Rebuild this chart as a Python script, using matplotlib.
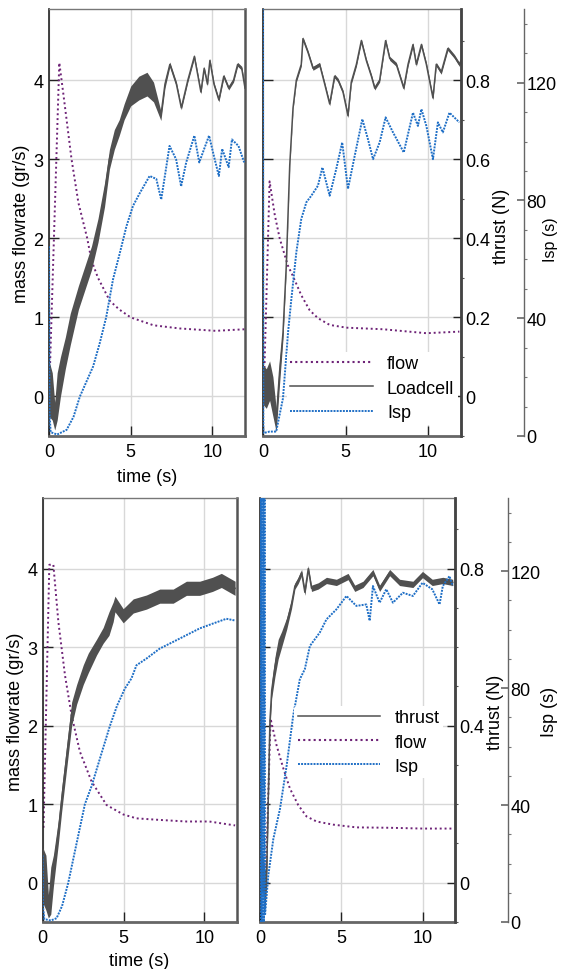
import matplotlib
matplotlib.use("Agg")
import matplotlib.pyplot as plt
import numpy as np
from matplotlib.ticker import MultipleLocator

plt.rcParams['font.family'] = ['Liberation Sans', 'DejaVu Sans']
plt.rcParams['font.size'] = 13

# -----------------------------
# data
# thrust in N, flow in gr/s, Isp in s, time in s
# -----------------------------

# top left
tl_flow_t = [0.05, 0.63, 0.87, 1.38, 1.8, 2.34, 2.6, 3.0, 3.72, 4.3, 5.0, 6.4, 8.0, 10.2, 12.0]
tl_flow = [0.3, 4.22, 3.84, 3.0, 2.45, 2.0, 1.72, 1.5, 1.21, 1.1, 1.0, 0.9, 0.86, 0.83, 0.85]
tl_thrust_t = [0.0, 0.2, 0.35, 0.5, 0.7, 1.0, 1.3, 1.8, 2.2, 2.6, 3.0, 3.4, 3.7, 4.0, 4.3,
               4.6, 5.0, 5.5, 6.0, 6.4, 6.85, 7.1, 7.4, 7.8, 8.1, 8.5, 8.9, 9.3, 9.5, 9.7,
               9.85, 10.1, 10.4, 10.7, 11.0, 11.3, 11.55, 11.8, 12.0]
tl_thrust = [0.02, 0.0, -0.05, 0.0, 0.05, 0.11, 0.17, 0.25, 0.30, 0.35, 0.42, 0.51, 0.60, 0.65, 0.68,
             0.72, 0.76, 0.78, 0.79, 0.77, 0.71, 0.79, 0.84, 0.79, 0.73, 0.80, 0.86, 0.77, 0.83, 0.79,
             0.85, 0.79, 0.75, 0.81, 0.78, 0.80, 0.84, 0.83, 0.78]
tl_thrust_spread = [0.07, 0.06, 0.035, 0.06, 0.05, 0.04, 0.04, 0.03, 0.03, 0.03, 0.03, 0.03, 0.025, 0.025, 0.02,
                    0.02, 0.025, 0.03, 0.03, 0.025, 0.012, 0.01, 0.006, 0.006, 0.005, 0.005, 0.005, 0.005, 0.005,
                    0.005, 0.005, 0.005, 0.005, 0.005, 0.005, 0.005, 0.005, 0.005, 0.005]
tl_isp_t = [0.0, 0.03, 0.1, 0.5, 1.08, 1.5, 1.89, 2.7, 3.1, 3.5, 3.92, 4.33, 4.74, 5.14, 5.55, 6.16,
            6.57, 6.87, 7.38, 7.78, 8.09, 8.4, 8.9, 9.2, 9.5, 9.8, 10.1, 10.4, 10.6, 11.0, 11.2,
            11.6, 11.95]
tl_isp = [64.4, 8.1, 1.3, 0.5, 2.1, 6.5, 13.4, 23.6, 31.4, 40.3, 53.2, 62.0, 71.2, 78.1, 82.4, 88.3,
          87.3, 80.3, 98.5, 94.0, 84.8, 92.9, 102.0, 92.9, 97.5, 102.0, 95.0, 88.3, 97.5, 91.3, 100.7,
          98.5, 92.9]

# top right
tr_flow_t = [0.08, 0.4, 0.71, 1.01, 1.5, 1.82, 2.32, 2.83, 3.33, 4.04, 5.05, 7.27, 9.9, 11.9]
tr_flow = [0.3, 2.72, 2.3, 2.0, 1.66, 1.52, 1.28, 1.09, 0.99, 0.905, 0.87, 0.85, 0.80, 0.82]
tr_thrust_t = [0.0, 0.2, 0.4, 0.6, 0.8, 1.0, 1.21, 1.41, 1.62, 1.82, 2.02, 2.32, 2.42, 2.73, 3.03,
               3.43, 3.74, 4.04, 4.34, 4.55, 4.85, 5.15, 5.35, 5.66, 5.96, 6.26, 6.57, 6.77, 7.07, 7.43,
               7.68, 8.08, 8.53, 8.79, 9.09, 9.29, 9.6, 9.9, 10.3, 10.5, 10.8, 11.2, 11.6, 11.9, 12.0]
tr_thrust = [0.03, 0.02, 0.04, 0.0, -0.06, 0.06, 0.16, 0.33, 0.585, 0.73, 0.80, 0.84, 0.905, 0.87, 0.83,
             0.84, 0.79, 0.74, 0.81, 0.80, 0.77, 0.71, 0.795, 0.84, 0.90, 0.85, 0.81, 0.78, 0.80, 0.90,
             0.855, 0.84, 0.78, 0.84, 0.89, 0.84, 0.89, 0.84, 0.755, 0.84, 0.82, 0.88, 0.86, 0.84, 0.85]
tr_thrust_spread = [0.05, 0.05, 0.05, 0.05, 0.03, 0.03, 0.015, 0.008, 0.005, 0.005] + [0.005] * 35
tr_isp_t = [0.0, 0.02, 0.4, 0.8, 1.21, 1.52, 1.72, 2.02, 2.32, 2.63, 2.93, 3.33, 3.6, 4.04, 4.44,
            4.8, 5.15, 5.56, 6.02, 6.36, 6.67, 7.07, 7.43, 7.88, 8.53, 9.09, 9.39, 9.6, 9.9, 10.3,
            10.6, 10.9, 11.3, 11.7, 11.9]
tr_isp = [150, 1.0, 1.5, 1.5, 12.8, 35.3, 46.6, 62.4, 73.7, 79.4, 81.6, 85.0, 91.2, 81.6, 90.7,
          99.7, 83.9, 95.2, 107.6, 100.8, 94.0, 99.7, 108.2, 103.1, 96.3, 109.8, 105.3, 111.0, 105.3, 94.0,
          106.5, 103.1, 109.8, 107.6, 106.5]

# bottom left
bl_flow_t = [0.05, 0.41, 0.66, 0.97, 1.38, 1.79, 2.3, 3.02, 3.95, 4.98, 5.8, 7.24, 8.89, 10.3, 11.9]
bl_flow = [0.7, 4.05, 4.05, 3.32, 2.64, 2.13, 1.67, 1.29, 0.99, 0.87, 0.82, 0.80, 0.78, 0.78, 0.73]
bl_thrust_t = [0.0, 0.2, 0.35, 0.5, 0.66, 0.97, 1.17, 1.48, 1.79, 2.1, 2.51, 2.82, 3.33, 3.74, 4.1,
               4.36, 4.47, 4.98, 5.6, 6.42, 7.24, 8.07, 8.89, 9.71, 10.5, 11.05, 11.9]
bl_thrust = [0.02, 0.0, -0.06, -0.02, 0.03, 0.13, 0.21, 0.32, 0.43, 0.48, 0.53, 0.56, 0.60, 0.63, 0.66,
             0.69, 0.71, 0.68, 0.705, 0.715, 0.73, 0.73, 0.75, 0.75, 0.76, 0.77, 0.75]
bl_thrust_spread = [0.07, 0.07, 0.03, 0.06, 0.04, 0.03, 0.03, 0.03, 0.03, 0.025, 0.025, 0.025, 0.02, 0.02, 0.03,
                    0.025, 0.02] + [0.018] * 10
bl_isp_t = [0.0, 0.02, 0.1, 0.5, 0.86, 1.2, 1.58, 2.1, 2.61, 3.02, 3.6, 4.16, 4.6, 5.08, 5.49,
            5.8, 6.42, 7.24, 8.07, 8.89, 9.71, 10.5, 11.36, 11.9]
bl_isp = [22.8, 5.0, 1.0, 0.5, 1.3, 5.5, 13.4, 27.0, 40.3, 46.4, 57.0, 67.1, 74.0, 79.8, 83.3,
          87.8, 90.1, 93.5, 95.8, 98.1, 100.4, 102.0, 103.7, 103.1]

# bottom right
br_flow_t = [0.3, 0.65, 1.02, 1.43, 1.84, 2.35, 2.86, 3.48, 4.5, 5.93, 7.98, 10.0, 11.86]
br_flow = [-0.3, 2.09, 1.75, 1.46, 1.20, 0.99, 0.845, 0.78, 0.74, 0.705, 0.70, 0.69, 0.69]
br_thrust_t = [0.0, 0.15, 0.3, 0.41, 0.61, 0.72, 0.92, 1.12, 1.33, 1.64, 1.94, 2.15, 2.35, 2.56, 2.76,
               2.97, 3.17, 3.58, 4.09, 4.7, 5.42, 5.83, 6.34, 6.95, 7.36, 7.98, 8.59, 9.41, 10.0, 10.6,
               11.25, 11.86]
br_thrust = [0.01, 0.03, -0.02, 0.03, 0.41, 0.49, 0.55, 0.595, 0.62, 0.66, 0.71, 0.756, 0.77, 0.79, 0.74,
             0.80, 0.75, 0.756, 0.77, 0.765, 0.78, 0.75, 0.76, 0.79, 0.75, 0.79, 0.765, 0.76, 0.785, 0.765,
             0.77, 0.765]
br_thrust_spread = [0.05, 0.05, 0.05, 0.04, 0.02, 0.02, 0.025, 0.025, 0.02, 0.015, 0.012] + [0.008] * 21
br_isp_t = [0.04, 0.06, 0.12, 0.18, 0.24, 0.28, 0.31, 0.51, 0.82, 1.23, 1.64, 2.04, 2.45, 2.76, 3.07,
            3.68, 4.09, 4.7, 5.32, 5.93, 6.54, 6.75, 6.95, 7.36, 7.77, 8.18, 8.79, 9.41, 10.0, 10.6,
            11.05, 11.25, 11.66, 11.86]
br_isp = [0, 150, 0, 150, 0, 150, 2.3, 15.9, 28.4, 38.7, 53.5, 70.5, 83.0, 86.5, 94.4,
          99.0, 103.5, 106.9, 111.5, 108.1, 108.6, 103.0, 114.9, 109.2, 113.8, 109.2, 112.6, 111.5, 116.0, 113.8,
          108.6, 114.9, 118.3, 114.9]

# ---- style ----
GRAY = '#505050'
PURPLE = '#6e2377'
BLUE = '#1f6fc6'
FLOW_LIM = (-0.5, 4.9)
THRUST_LIM = (-0.1, 0.98)
ISP_LIM = (0, 145)
W, H = 561, 970
FS = 13

fig = plt.figure(figsize=(W / 100, H / 100), dpi=100)


def px_rect(x0, y0, x1, y1):
    return [x0 / W, 1 - y1 / H, (x1 - x0) / W, (y1 - y0) / H]


def style_spines(ax):
    ax.spines['left'].set_color('#222222')
    ax.spines['left'].set_linewidth(1.2)
    ax.spines['top'].set_color('#777777')
    ax.spines['top'].set_linewidth(1.0)
    ax.spines['right'].set_color('#555555')
    ax.spines['right'].set_linewidth(1.8)
    ax.spines['bottom'].set_color('#666666')
    ax.spines['bottom'].set_linewidth(2.0)


def make_panel(rect, left_panel, isp_pos=None, thrust_ticks=None):
    ax = fig.add_axes(rect)
    ax.set_xlim(0, 12)
    ax.set_ylim(*FLOW_LIM)
    ax.set_xticks([0, 5, 10])
    ax.set_yticks([0, 1, 2, 3, 4])
    ax.grid(True, color='#d8d8d8', lw=1.0)
    ax.set_axisbelow(True)
    ax.tick_params(direction='in', length=7, width=1, color='#222222', pad=4,
                   right=left_panel, labelleft=left_panel, labelsize=FS)
    ax.tick_params(axis='x', pad=5)
    style_spines(ax)

    axt = ax.twinx()
    axt.set_ylim(*THRUST_LIM)
    axi = ax.twinx()
    axi.set_ylim(*ISP_LIM)
    if left_panel:
        axt.axis('off')
        axi.axis('off')
    else:
        for s in ['left', 'top', 'bottom']:
            axt.spines[s].set_visible(False)
            axi.spines[s].set_visible(False)
        axt.spines['right'].set_color('#444444')
        axt.spines['right'].set_linewidth(1.8)
        axt.set_yticks(thrust_ticks)
        axt.set_yticklabels([f"{v:g}" for v in thrust_ticks])
        axt.yaxis.set_minor_locator(MultipleLocator(0.1))
        axt.tick_params(which='major', direction='in', length=6, width=1, color='#222222', pad=3,
                        labelsize=FS)
        axt.tick_params(which='minor', direction='out', length=2, width=0.8, color='#555555')
        axi.spines['right'].set_position(('axes', isp_pos))
        axi.spines['right'].set_color('#666666')
        axi.spines['right'].set_linewidth(1.0)
        axi.set_yticks([0, 40, 80, 120])
        axi.yaxis.set_minor_locator(MultipleLocator(10))
        axi.tick_params(which='major', direction='in', length=5, width=1.2, color='#666666', pad=2,
                        labelsize=FS)
        axi.tick_params(which='minor', direction='out', length=2, width=0.8, color='#777777')
    return ax, axt, axi


def draw_curves(ax, axt, axi, flow_t, flow, thr_t, thr, thr_spread, isp_t, isp, thrust_label):
    thr = np.array(thr)
    spread = np.array(thr_spread)
    axt.fill_between(thr_t, thr - spread, thr + spread, color=GRAY, lw=0)
    l_thr, = axt.plot(thr_t, thr, color=GRAY, lw=1.1, label=thrust_label)
    l_isp, = axi.plot(isp_t, isp, color=BLUE, lw=1.4, ls=(0, (1, 0.6)), label='Isp')
    ax.plot(flow_t, flow, color=PURPLE, lw=1.4, ls=(0, (1, 1.5)))
    # legend proxy for the flow curve (drawn on the primary axes)
    l_flow, = axi.plot([], [], color=PURPLE, lw=1.5, ls=(0, (1, 1.5)), label='flow')
    return l_thr, l_flow, l_isp


LEG = dict(loc='center left', frameon=True, facecolor='white', edgecolor='none', framealpha=1,
           fontsize=FS, handlelength=4.55, handletextpad=0.8, labelspacing=0.4,
           borderpad=0.2, borderaxespad=0)

# top row
ax1, ax1t, ax1i = make_panel(px_rect(49, 10, 245, 437), True)
draw_curves(ax1, ax1t, ax1i, tl_flow_t, tl_flow, tl_thrust_t, tl_thrust, tl_thrust_spread,
            tl_isp_t, tl_isp, 'Loadcell')

ax2, ax2t, ax2i = make_panel(px_rect(263, 10, 461, 437), False, isp_pos=1.318,
                             thrust_ticks=[0, 0.2, 0.4, 0.6, 0.8])
h_thr, h_flow, h_isp = draw_curves(ax2, ax2t, ax2i, tr_flow_t, tr_flow, tr_thrust_t, tr_thrust,
                                   tr_thrust_spread, tr_isp_t, tr_isp, 'Loadcell')
ax2i.legend([h_flow, h_thr, h_isp], ['flow', 'Loadcell', 'Isp'],
            bbox_to_anchor=(0.12, 0.112), bbox_transform=ax2.transAxes, **LEG)

# bottom row
ax3, ax3t, ax3i = make_panel(px_rect(42.7, 499, 236.7, 923), True)
draw_curves(ax3, ax3t, ax3i, bl_flow_t, bl_flow, bl_thrust_t, bl_thrust, bl_thrust_spread,
            bl_isp_t, bl_isp, 'thrust')

ax4, ax4t, ax4i = make_panel(px_rect(260, 499, 455, 923), False, isp_pos=1.270,
                             thrust_ticks=[0, 0.4, 0.8])
h_thr, h_flow, h_isp = draw_curves(ax4, ax4t, ax4i, br_flow_t, br_flow, br_thrust_t, br_thrust,
                                   br_thrust_spread, br_isp_t, br_isp, 'thrust')
ax4i.legend([h_thr, h_flow, h_isp], ['thrust', 'flow', 'Isp'],
            bbox_to_anchor=(0.175, 0.4245), bbox_transform=ax4.transAxes, **LEG)


# axis titles
def label(x, y, s, rot=0, fs=FS):
    fig.text(x / W, 1 - y / H, s, rotation=rot, ha='center', va='center', fontsize=fs)


label(22, 224, 'mass flowrate (gr/s)', 90)
label(16, 712, 'mass flowrate (gr/s)', 90)
label(147, 477, 'time (s)')
label(139, 962, 'time (s)')
label(502, 226, 'thrust (N)', 90)
label(495, 712, 'thrust (N)', 90)
# top Isp title sits against the figure edge: kept inside and clear of the 80 label
label(551, 240, 'Isp (s)', 90, fs=11.5)
label(550, 712, 'Isp (s)', 90)

fig.savefig('out.png', dpi=100)
